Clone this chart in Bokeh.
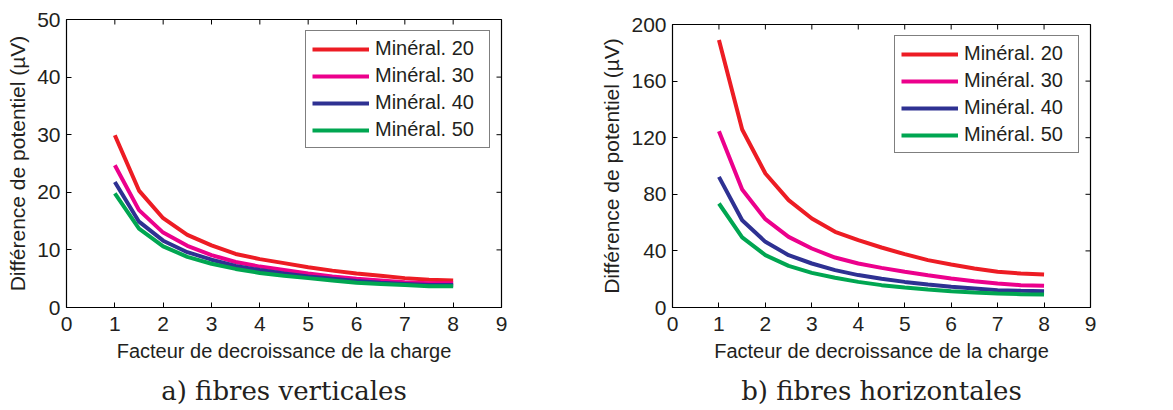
import math
from bokeh.plotting import figure
from bokeh.models import Legend, LegendItem, Title, FixedTicker, Range1d, Spacer
from bokeh.layouts import row, column
from bokeh.embed import file_html
from bokeh.resources import INLINE

# ---- data ----
x_vals = [1, 1.5, 2, 2.5, 3, 3.5, 4, 4.5, 5, 5.5, 6, 6.5, 7, 7.5, 8]
series_names = ["Minéral. 20", "Minéral. 30", "Minéral. 40", "Minéral. 50"]

vert_20 = [29.9, 20.3, 15.5, 12.6, 10.8, 9.3, 8.4, 7.7, 7.0, 6.4, 5.9, 5.5, 5.1, 4.8, 4.7]
vert_30 = [24.7, 16.9, 13.0, 10.7, 9.1, 7.9, 7.1, 6.5, 5.9, 5.4, 5.0, 4.7, 4.4, 4.2, 4.2]
vert_40 = [21.8, 14.9, 11.6, 9.6, 8.3, 7.2, 6.5, 5.9, 5.4, 5.0, 4.6, 4.3, 4.1, 3.9, 3.9]
vert_50 = [19.8, 13.7, 10.6, 8.8, 7.6, 6.7, 6.0, 5.5, 5.1, 4.7, 4.3, 4.1, 3.9, 3.7, 3.7]

horiz_20 = [189.0, 125.8, 94.7, 75.9, 62.9, 53.5, 47.6, 42.4, 37.7, 33.5, 30.4, 27.6, 25.2, 24.0, 23.3]
horiz_30 = [124.6, 83.4, 62.4, 49.9, 41.7, 35.3, 31.1, 28.0, 25.2, 22.8, 20.5, 18.6, 17.0, 15.8, 15.3]
horiz_40 = [92.3, 61.7, 46.4, 37.0, 31.1, 26.4, 22.9, 20.3, 18.1, 16.3, 14.6, 13.4, 12.2, 11.8, 11.5]
horiz_50 = [73.5, 49.5, 37.0, 29.4, 24.5, 21.0, 18.1, 15.8, 14.1, 12.7, 11.5, 10.6, 9.9, 9.4, 9.2]

x_ticks = [0, 1, 2, 3, 4, 5, 6, 7, 8, 9]
vert_ticks = [0, 10, 20, 30, 40, 50]
horiz_ticks = [0, 40, 80, 120, 160, 200]

colors = ["#ed1c24", "#ec008c", "#2e3192", "#00a651"]
TXT = "#231f20"
SANS = "Liberation Sans"


def make_panel(series, yticks, ymax, caption, border_left, frame_w, frame_h, border_top, border_bottom):
    p = figure(output_backend="svg", toolbar_location=None,
               frame_width=frame_w, frame_height=frame_h,
               x_range=Range1d(0, 9), y_range=Range1d(0, ymax),
               min_border_left=border_left, min_border_top=border_top,
               min_border_right=8, min_border_bottom=border_bottom,
               background_fill_color="white", border_fill_color="white")
    p.grid.visible = False
    p.outline_line_color = "black"
    p.outline_line_width = 1.2
    p.outline_line_alpha = 1

    for ax in (p.xaxis[0], p.yaxis[0]):
        ax.major_tick_in = 5
        ax.major_tick_out = 0
        ax.minor_tick_line_color = None
        ax.axis_line_color = None
        ax.major_tick_line_color = "black"
        ax.major_label_text_font = SANS
        ax.major_label_text_font_size = "21px"
        ax.major_label_text_color = TXT
        ax.axis_label_text_font = SANS
        ax.axis_label_text_font_style = "normal"
        ax.axis_label_text_color = TXT
    p.xaxis[0].axis_label_text_font_size = "20px"
    p.yaxis[0].axis_label_text_font_size = "21px"
    p.xaxis[0].ticker = FixedTicker(ticks=x_ticks)
    p.yaxis[0].ticker = FixedTicker(ticks=yticks)
    p.xaxis[0].major_label_standoff = 9
    p.yaxis[0].major_label_standoff = 6
    p.xaxis[0].axis_label = "Facteur de decroissance de la charge"
    p.yaxis[0].axis_label = "Différence de potentiel (µV)"
    p.xaxis[0].axis_label_standoff = 6
    p.yaxis[0].axis_label_standoff = 5

    # mirrored inward ticks on top and right edges
    p.ray(x=x_ticks, y=[ymax] * len(x_ticks), length=5, length_units="screen",
          angle=-math.pi / 2, line_color="black", line_width=1)
    p.ray(x=[9] * len(yticks), y=yticks, length=5, length_units="screen",
          angle=math.pi, line_color="black", line_width=1)

    items = []
    for name, ys, c in zip(series_names, series, colors):
        r = p.line(x_vals, ys, line_color=c, line_width=4)
        items.append(LegendItem(label=name, renderers=[r]))

    leg = Legend(items=items, location="top_right",
                 label_text_font=SANS, label_text_font_size="20px",
                 label_text_color=TXT,
                 glyph_width=57, glyph_height=20, label_height=20,
                 label_width=108,
                 label_standoff=6, spacing=4, padding=6, margin=11,
                 border_line_color="black", border_line_width=1.2,
                 background_fill_color="white", background_fill_alpha=1)
    p.add_layout(leg)

    t = Title(text=caption, align="center", text_font="DejaVu Serif",
              text_font_size="26px", text_font_style="normal",
              text_color=TXT, standoff=19)
    p.add_layout(t, "below")
    return p


p1 = make_panel([vert_20, vert_30, vert_40, vert_50], vert_ticks, 50,
                "a) fibres verticales", 66, 435, 288, 19, 100)
p2 = make_panel([horiz_20, horiz_30, horiz_40, horiz_50], horiz_ticks, 200,
                "b) fibres horizontales", 163, 418, 283, 19, 100)

layout = row(p1, column(Spacer(height=5, width=10), p2, spacing=0), spacing=0)
open("out.html", "w").write(file_html(layout, INLINE))
